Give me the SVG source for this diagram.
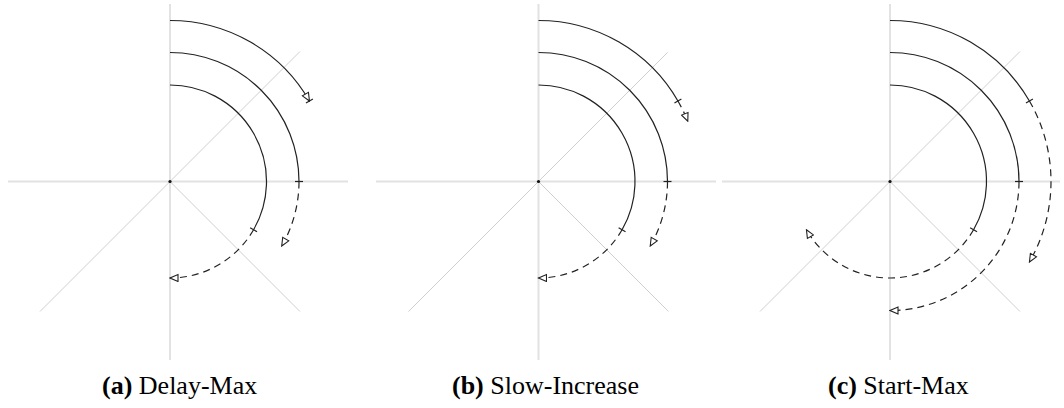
<svg xmlns="http://www.w3.org/2000/svg" width="1064" height="408" viewBox="0 0 1064 408">
<style>
.bg{fill:#fff}
.axis{stroke:#e2e2e2;stroke-width:2;fill:none}
.diag{stroke:#cfcfcf;stroke-width:1;fill:none}
.arc{stroke:#222;stroke-width:1.2;fill:none}
.dash{stroke:#222;stroke-width:1.2;fill:none;stroke-dasharray:7 5}
.tick{stroke:#222;stroke-width:1.2}
.dot{fill:#111}
.cap{font-family:"Liberation Serif","Times New Roman",serif;font-size:26px;fill:#000}
.b{font-weight:bold}
</style>
<defs>
<marker id="tri" markerUnits="userSpaceOnUse" markerWidth="10" markerHeight="9" viewBox="0 0 10 9" refX="9" refY="4.5" orient="auto">
<path d="M1,1 L9,4.5 L1,8 Z" fill="#fff" stroke="#222" stroke-width="1.1"/>
</marker>
</defs>
<rect class="bg" x="0" y="0" width="1064" height="408"/>

<g id="panel-a">
<g id="grid-a">
<line class="axis" x1="8" y1="181.5" x2="348" y2="181.5"/>
<line class="axis" x1="170" y1="4" x2="170" y2="360"/>
<line class="diag" x1="170" y1="181.5" x2="300" y2="51.5"/>
<line class="diag" x1="170" y1="181.5" x2="40" y2="311.5"/>
<line class="diag" x1="170" y1="181.5" x2="300" y2="311.5"/>
<circle class="dot" cx="170" cy="181.5" r="1.6"/>
</g>
<g id="connectors-a">
<path class="arc" d="M170,85 A96.5,96.5 0 0 1 253.57,229.75"/>
<path class="dash" marker-end="url(#tri)" d="M253.57,229.75 A96.5,96.5 0 0 1 170,278"/>
<line class="tick" x1="250.11" y1="227.75" x2="257.03" y2="231.75"/>
<path class="arc" d="M170,52.5 A129,129 0 0 1 299,181.5"/>
<path class="dash" marker-end="url(#tri)" d="M299,181.5 A129,129 0 0 1 281.72,246"/>
<line class="tick" x1="295" y1="181.5" x2="303" y2="181.5"/>
<path class="arc" marker-end="url(#tri)" d="M170,20.5 A161,161 0 0 1 309.43,101"/>
<line class="tick" x1="305.97" y1="103" x2="312.89" y2="99"/>
</g>
<text id="label-a" class="cap" x="102" y="394"><tspan class="b">(a)</tspan> Delay-Max</text>
</g>

<g id="panel-b">
<g id="grid-b">
<line class="axis" x1="376" y1="181.5" x2="716" y2="181.5"/>
<line class="axis" x1="538.5" y1="4" x2="538.5" y2="360"/>
<line class="diag" x1="538.5" y1="181.5" x2="667.5" y2="52.5"/>
<line class="diag" x1="538.5" y1="181.5" x2="408.5" y2="311.5"/>
<line class="diag" x1="538.5" y1="181.5" x2="668.5" y2="311.5"/>
<circle class="dot" cx="538.5" cy="181.5" r="1.6"/>
</g>
<g id="connectors-b">
<path class="arc" d="M538.5,85 A96.5,96.5 0 0 1 622.07,229.75"/>
<path class="dash" marker-end="url(#tri)" d="M622.07,229.75 A96.5,96.5 0 0 1 538.5,278"/>
<line class="tick" x1="618.61" y1="227.75" x2="625.53" y2="231.75"/>
<path class="arc" d="M538.5,52.5 A129,129 0 0 1 667.5,181.5"/>
<path class="dash" marker-end="url(#tri)" d="M667.5,181.5 A129,129 0 0 1 650.22,246"/>
<line class="tick" x1="663.5" y1="181.5" x2="671.5" y2="181.5"/>
<path class="arc" d="M538.5,20.5 A161,161 0 0 1 677.93,101"/>
<path class="dash" marker-end="url(#tri)" d="M677.93,101 A161,161 0 0 1 687.78,121.19"/>
<line class="tick" x1="674.47" y1="103" x2="681.39" y2="99"/>
</g>
<text id="label-b" class="cap" x="452" y="394"><tspan class="b">(b)</tspan> Slow-Increase</text>
</g>

<g id="panel-c">
<g id="grid-c">
<line class="axis" x1="722" y1="181.5" x2="1060" y2="181.5"/>
<line class="axis" x1="890" y1="4" x2="890" y2="360"/>
<line class="diag" x1="890" y1="181.5" x2="1020" y2="51.5"/>
<line class="diag" x1="890" y1="181.5" x2="760" y2="311.5"/>
<line class="diag" x1="890" y1="181.5" x2="1020" y2="311.5"/>
<circle class="dot" cx="890" cy="181.5" r="1.6"/>
</g>
<g id="connectors-c">
<path class="arc" d="M890,85 A96.5,96.5 0 0 1 973.57,229.75"/>
<path class="dash" marker-end="url(#tri)" d="M973.57,229.75 A96.5,96.5 0 0 1 806.43,229.75"/>
<line class="tick" x1="970.11" y1="227.75" x2="977.03" y2="231.75"/>
<path class="arc" d="M890,52.5 A129,129 0 0 1 1019,181.5"/>
<path class="dash" marker-end="url(#tri)" d="M1019,181.5 A129,129 0 0 1 890,310.5"/>
<line class="tick" x1="1015" y1="181.5" x2="1023" y2="181.5"/>
<path class="arc" d="M890,20.5 A161,161 0 0 1 1029.43,101"/>
<path class="dash" marker-end="url(#tri)" d="M1029.43,101 A161,161 0 0 1 1029.43,262"/>
<line class="tick" x1="1025.97" y1="103" x2="1032.89" y2="99"/>
</g>
<text id="label-c" class="cap" x="828" y="394"><tspan class="b">(c)</tspan> Start-Max</text>
</g>
</svg>
